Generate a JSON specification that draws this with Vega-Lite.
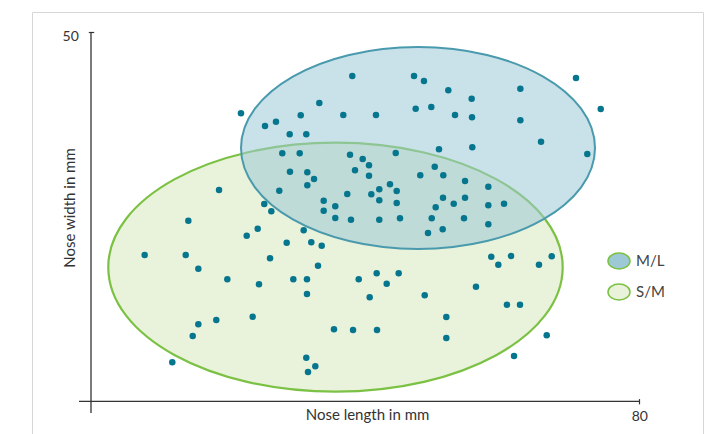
{
  "$schema": "https://vega.github.io/schema/vega-lite/v6.json",
  "autosize": {"type": "none"},
  "padding": {"left": 32, "top": 12, "right": 3, "bottom": 0},
  "width": 671,
  "height": 422,
  "background": "white",
  "config": {
    "font": "Lato",
    "view": {"stroke": "#d6d6d6", "strokeWidth": 1}
  },
  "datasets": {
    "dots": [
      {"x": 21.88, "y": 38.99}, {"x": 38.12, "y": 44.04}, {"x": 47.13, "y": 44.04}, {"x": 48.58, "y": 43.37},
      {"x": 52.13, "y": 42.11}, {"x": 55.54, "y": 40.97}, {"x": 62.64, "y": 42.32}, {"x": 70.76, "y": 43.77},
      {"x": 33.31, "y": 40.39}, {"x": 30.60, "y": 38.72}, {"x": 36.81, "y": 38.76}, {"x": 41.58, "y": 38.76},
      {"x": 47.37, "y": 39.62}, {"x": 49.65, "y": 39.85}, {"x": 53.11, "y": 38.76}, {"x": 55.59, "y": 38.45},
      {"x": 62.64, "y": 38.05}, {"x": 74.37, "y": 39.58}, {"x": 25.39, "y": 37.27}, {"x": 26.99, "y": 37.86},
      {"x": 28.99, "y": 36.15}, {"x": 31.41, "y": 36.15}, {"x": 65.66, "y": 35.15}, {"x": 50.77, "y": 34.12},
      {"x": 55.63, "y": 34.39}, {"x": 72.41, "y": 33.48}, {"x": 27.91, "y": 33.58}, {"x": 30.45, "y": 33.58},
      {"x": 37.79, "y": 33.39}, {"x": 39.64, "y": 32.81}, {"x": 40.56, "y": 31.95}, {"x": 44.46, "y": 33.62},
      {"x": 29.03, "y": 31.09}, {"x": 31.56, "y": 31.00}, {"x": 32.54, "y": 30.10}, {"x": 31.56, "y": 29.24},
      {"x": 38.52, "y": 31.28}, {"x": 40.56, "y": 30.54}, {"x": 50.15, "y": 31.76}, {"x": 48.04, "y": 30.60},
      {"x": 51.40, "y": 30.60}, {"x": 54.57, "y": 29.83}, {"x": 57.97, "y": 29.06}, {"x": 27.47, "y": 28.51},
      {"x": 37.39, "y": 28.07}, {"x": 40.90, "y": 28.03}, {"x": 42.06, "y": 28.70}, {"x": 43.62, "y": 29.38},
      {"x": 44.60, "y": 28.47}, {"x": 42.06, "y": 27.21}, {"x": 44.60, "y": 26.85}, {"x": 33.95, "y": 27.16},
      {"x": 35.64, "y": 26.40}, {"x": 33.95, "y": 25.81}, {"x": 35.64, "y": 24.82}, {"x": 37.93, "y": 24.59},
      {"x": 42.06, "y": 24.59}, {"x": 45.08, "y": 24.78}, {"x": 51.36, "y": 27.57}, {"x": 50.29, "y": 26.27},
      {"x": 52.92, "y": 26.75}, {"x": 54.57, "y": 27.57}, {"x": 57.97, "y": 26.54}, {"x": 60.26, "y": 26.75},
      {"x": 49.71, "y": 24.78}, {"x": 54.42, "y": 24.78}, {"x": 57.97, "y": 23.96}, {"x": 49.17, "y": 22.79},
      {"x": 51.31, "y": 23.29}, {"x": 25.28, "y": 26.71}, {"x": 26.31, "y": 25.72}, {"x": 24.32, "y": 23.37},
      {"x": 22.72, "y": 22.42}, {"x": 31.03, "y": 23.15}, {"x": 28.55, "y": 21.47}, {"x": 32.14, "y": 21.53},
      {"x": 33.66, "y": 21.07}, {"x": 26.12, "y": 19.36}, {"x": 58.40, "y": 19.58}, {"x": 61.28, "y": 19.67},
      {"x": 67.22, "y": 19.63}, {"x": 18.68, "y": 28.61}, {"x": 14.20, "y": 24.45}, {"x": 7.83, "y": 19.81},
      {"x": 13.82, "y": 19.81}, {"x": 15.66, "y": 17.95}, {"x": 19.89, "y": 16.52}, {"x": 15.66, "y": 10.43},
      {"x": 18.28, "y": 11.01}, {"x": 14.84, "y": 8.84}, {"x": 11.86, "y": 5.28}, {"x": 33.12, "y": 18.36},
      {"x": 24.51, "y": 15.84}, {"x": 29.52, "y": 16.52}, {"x": 31.51, "y": 16.52}, {"x": 31.51, "y": 14.53},
      {"x": 39.06, "y": 16.52}, {"x": 41.68, "y": 17.33}, {"x": 44.89, "y": 17.33}, {"x": 43.14, "y": 15.92},
      {"x": 40.66, "y": 14.08}, {"x": 48.69, "y": 14.35}, {"x": 56.17, "y": 15.52}, {"x": 59.43, "y": 18.49},
      {"x": 65.36, "y": 18.49}, {"x": 60.69, "y": 13.08}, {"x": 62.59, "y": 13.08}, {"x": 51.84, "y": 11.41},
      {"x": 51.84, "y": 8.57}, {"x": 66.49, "y": 8.94}, {"x": 61.72, "y": 6.13}, {"x": 23.59, "y": 11.45},
      {"x": 35.45, "y": 9.75}, {"x": 38.23, "y": 9.65}, {"x": 41.73, "y": 9.65}, {"x": 31.41, "y": 5.90},
      {"x": 32.73, "y": 4.74}, {"x": 31.66, "y": 3.97}
    ],
    "ellipses": [
      {"group": "M/L", "x": 47.71, "y": 34.30},
      {"group": "S/M", "x": 35.67, "y": 18.16}
    ],
    "axislines": [
      {"x": -1.75, "x2": 80, "y": 0, "y2": 0},
      {"x": 0, "x2": 0, "y": -1.6, "y2": 50}
    ]
  },
  "encoding": {
    "x": {
      "field": "x", "type": "quantitative",
      "scale": {"domain": [-8.608, 89.29], "nice": false, "zero": false},
      "axis": {
        "title": "Nose length in mm", "values": [80], "domain": false, "grid": false,
        "ticks": true, "tickSize": 5.3, "tickColor": "#333333", "tickWidth": 1.2,
        "offset": -35.4, "labelFont": "Lato", "labelFontSize": 14, "labelColor": "#333333",
        "labelPadding": 6, "titleFont": "Lato", "titleFontSize": 15, "titleFontWeight": "normal",
        "titleColor": "#333333", "titleX": 335, "titleY": 15.9, "titleBaseline": "middle"
      }
    },
    "y": {
      "field": "y", "type": "quantitative",
      "scale": {"domain": [-4.427, 52.71], "nice": false, "zero": false},
      "axis": {
        "title": "Nose width in mm", "values": [50], "domain": false, "grid": false,
        "ticks": true, "tickSize": 5.4, "tickColor": "#333333", "tickWidth": 1.2,
        "offset": -61.7, "labelFont": "Lato", "labelFontSize": 14, "labelColor": "#333333",
        "labelPadding": 10, "labelOffset": 4, "titleFont": "Lato", "titleFontSize": 15,
        "titleFontWeight": "normal", "titleColor": "#333333", "titleX": -24.5, "titleY": 195.5,
        "titleBaseline": "middle", "titleAngle": -90
      }
    }
  },
  "layer": [
    {
      "data": {"name": "ellipses"},
      "transform": [{"filter": "datum.group === 'S/M'"}],
      "mark": {
        "type": "point",
        "shape": "M -1 0 C -1 -0.3027 -0.5523 -0.548 0 -0.548 C 0.5523 -0.548 1 -0.3027 1 0 C 1 0.3027 0.5523 0.548 0 0.548 C -0.5523 0.548 -1 0.3027 -1 0 Z",
        "size": 206479, "filled": true, "fillOpacity": 1, "opacity": 1,
        "stroke": "#7bc143", "strokeWidth": 2.2
      },
      "encoding": {
        "fill": {
          "field": "group", "type": "nominal",
          "scale": {"domain": ["M/L", "S/M"], "range": ["#9dc8d6", "#e9f2da"]},
          "legend": {
            "title": null, "orient": "none", "legendX": 575, "legendY": 237, "direction": "vertical",
            "padding": 0, "rowPadding": 8, "labelFont": "Lato", "labelFontSize": 15, "labelColor": "#444444",
            "labelOffset": 5, "symbolSize": 484,
            "symbolType": "M -1 0 C -1 -0.398 -0.552 -0.72 0 -0.72 C 0.552 -0.72 1 -0.398 1 0 C 1 0.398 0.552 0.72 0 0.72 C -0.552 0.72 -1 0.398 -1 0 Z",
            "encode": {"symbols": {"update": {
              "stroke": {"signal": "datum.value === 'M/L' ? '#1f7b94' : '#bfe0a3'"},
              "strokeWidth": {"value": 2}, "fillOpacity": {"value": 1}, "opacity": {"value": 1},
              "size": {"value": 484}
            }}}
          }
        }
      }
    },
    {
      "data": {"name": "ellipses"},
      "transform": [{"filter": "datum.group === 'M/L'"}],
      "mark": {
        "type": "point",
        "shape": "M -1 0 C -1 -0.3151 -0.5523 -0.5706 0 -0.5706 C 0.5523 -0.5706 1 -0.3151 1 0 C 1 0.3151 0.5523 0.5706 0 0.5706 C -0.5523 0.5706 -1 0.3151 -1 0 Z",
        "size": 125316, "filled": true, "fillOpacity": 0.55, "opacity": 1,
        "stroke": "#4a9aae", "strokeWidth": 2
      },
      "encoding": {
        "fill": {
          "field": "group", "type": "nominal",
          "scale": {"domain": ["M/L", "S/M"], "range": ["#9dc8d6", "#e9f2da"]},
          "legend": {
            "title": null, "orient": "none", "legendX": 575, "legendY": 237, "direction": "vertical",
            "padding": 0, "rowPadding": 8, "labelFont": "Lato", "labelFontSize": 15, "labelColor": "#444444",
            "labelOffset": 5, "symbolSize": 484,
            "symbolType": "M -1 0 C -1 -0.398 -0.552 -0.72 0 -0.72 C 0.552 -0.72 1 -0.398 1 0 C 1 0.398 0.552 0.72 0 0.72 C -0.552 0.72 -1 0.398 -1 0 Z",
            "encode": {"symbols": {"update": {
              "stroke": {"signal": "datum.value === 'M/L' ? '#1f7b94' : '#bfe0a3'"},
              "strokeWidth": {"value": 2}, "fillOpacity": {"value": 1}, "opacity": {"value": 1},
              "size": {"value": 484}
            }}}
          }
        }
      }
    },
    {
      "data": {"name": "axislines"},
      "mark": {"type": "rule", "color": "#333333", "strokeWidth": 1.3},
      "encoding": {"x2": {"field": "x2"}, "y2": {"field": "y2"}}
    },
    {
      "data": {"name": "dots"},
      "mark": {"type": "circle", "size": 42, "color": "#05768e", "opacity": 1}
    }
  ]
}
